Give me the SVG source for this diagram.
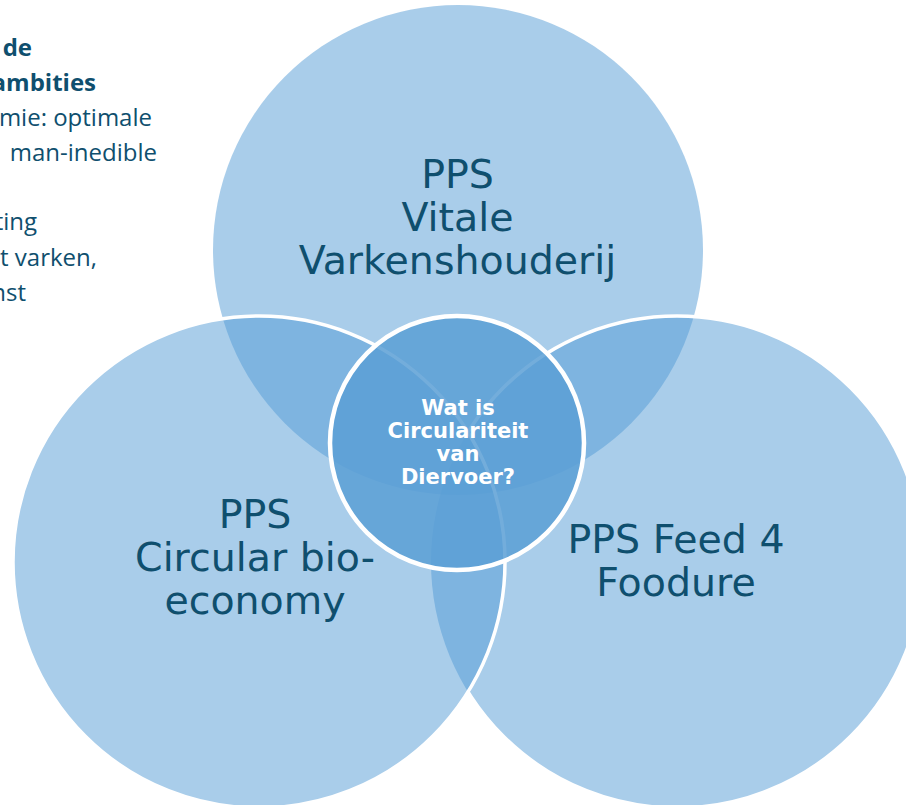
<svg xmlns="http://www.w3.org/2000/svg" width="906" height="805" viewBox="0 0 906 805">
<style>
.big{fill:#539BD5;fill-opacity:0.5}
.lbl{font-family:"DejaVu Sans",Verdana,sans-serif;font-size:39.5px;fill:#0F4F6E;text-anchor:middle}
.ctr{font-family:"DejaVu Sans",Verdana,sans-serif;font-size:21px;font-weight:bold;fill:#FFFFFF;text-anchor:middle}
.side{font-family:"Open Sans","Liberation Sans",sans-serif;font-size:24px;fill:#0F4F6E;text-anchor:end}
.sideb{font-weight:bold}
</style>
<defs>
<clipPath id="outsideLeft">
<path clip-rule="evenodd" d="M0 0H906V805H0Z M13 562a246 246 0 1 0 492 0a246 246 0 1 0 -492 0Z"/>
</clipPath>
</defs>
<g id="side-text">
<text class="side sideb" x="32" y="56">de</text>
<text class="side sideb" x="96" y="91">ambities</text>
<text class="side" x="152" y="126">mie: optimale</text>
<text class="side" x="157" y="161">man-inedible</text>
<text class="side" x="37" y="230">ting</text>
<text class="side" x="97" y="266">t varken,</text>
<text class="side" x="26" y="301">nst</text>
</g>
<g id="node-vitale">
<circle class="big" cx="458" cy="250" r="245"/>
<text class="lbl" x="457.5" y="188">PPS</text>
<text class="lbl" x="457.5" y="231">Vitale</text>
<text class="lbl" x="457.5" y="274">Varkenshouderij</text>
</g>
<g id="node-feed4foodure">
<circle class="big" cx="677" cy="562" r="246"/>
<circle cx="677" cy="562" r="246" fill="none" stroke="#FFFFFF" stroke-width="3.5" clip-path="url(#outsideLeft)"/>
</g>
<g id="node-circular">
<circle class="big" cx="259" cy="562" r="246" stroke="#FFFFFF" stroke-width="3.5" stroke-opacity="1"/>
</g>
<g id="labels-lower">
<text class="lbl" x="255" y="528">PPS</text>
<text class="lbl" x="255" y="571">Circular bio-</text>
<text class="lbl" x="255" y="614">economy</text>
<text class="lbl" x="676" y="553">PPS Feed 4</text>
<text class="lbl" x="676" y="596">Foodure</text>
</g>
<g id="node-center">
<circle cx="457" cy="443" r="127" fill="#5A9FD5" fill-opacity="0.85" stroke="#FFFFFF" stroke-width="4.5"/>
<text class="ctr" x="458" y="415">Wat is</text>
<text class="ctr" x="458" y="438">Circulariteit</text>
<text class="ctr" x="458" y="461">van</text>
<text class="ctr" x="458" y="484">Diervoer?</text>
</g>
<g id="connectors"/>
</svg>
